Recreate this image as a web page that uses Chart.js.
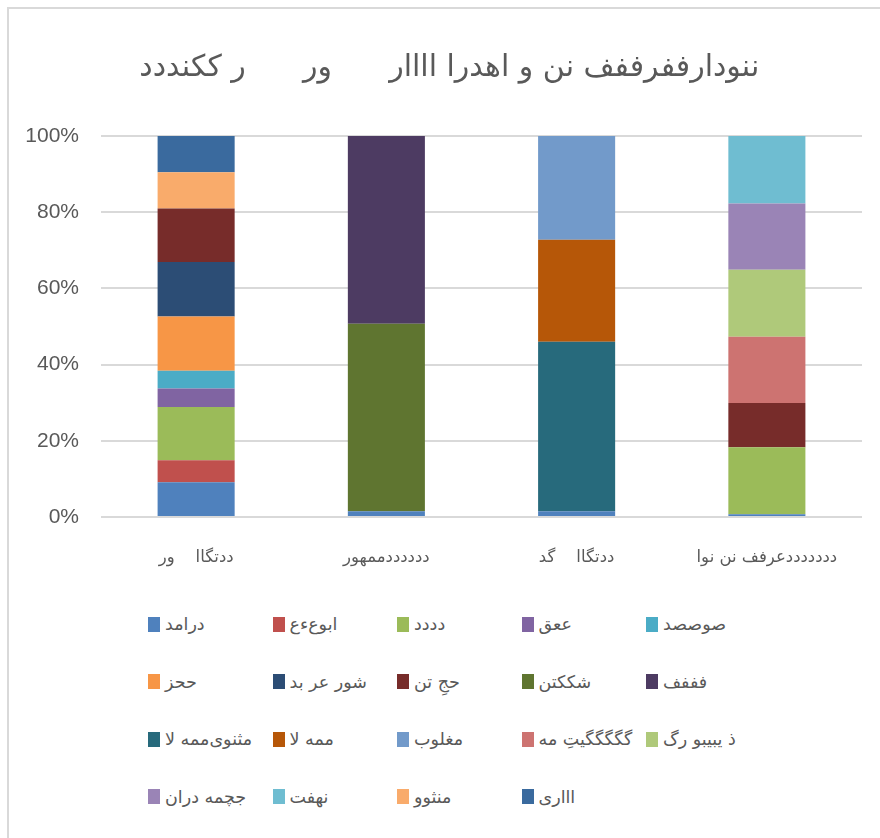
<!DOCTYPE html>
<html>
<head>
<meta charset="utf-8">
<script src="https://cdn.jsdelivr.net/npm/chart.js@4.4.1/dist/chart.umd.min.js"></script>
<style>
  html, body { margin: 0; padding: 0; background: #fff; overflow: hidden; }
  #frame { position: absolute; left: 7px; top: 7px; width: 900px; height: 900px; border: 2px solid #d9d9d9; box-sizing: border-box; }
  #wrap { position: absolute; left: 0; top: 0; width: 880px; height: 590px; }
  #legend { position: absolute; left: 148px; top: 609px; display: grid; grid-template-columns: repeat(5, 124.5px); grid-auto-rows: 57.5px; font-family: "DejaVu Sans", sans-serif; font-size: 17.5px; color: #595959; }
  .item { display: flex; align-items: center; height: 30px; white-space: nowrap; }
  .box { width: 12px; height: 15px; margin-right: 5px; flex: none; }
</style>
</head>
<body>
<div id="frame"></div>
<div id="wrap"><canvas id="grafico"></canvas></div>
<div id="legend"></div>
<script>
// --- DADOS ---
const TITULO = '   ننودارففرففف نن و اهدرا اااار      ور      ر ککنددد';
const CATEGORIAS = ['ددتگاا    ور', 'ددددددممهور', 'ددتگاا    گد', 'دددددددعرفف نن نوا'];
const SERIES = ['درامد', 'ابوعءع', 'دددد', 'ععق', 'صوصصد', 'ححز', 'شور عر بد', 'حجِ تن', 'شککتن', 'فففف',
  'مثنوی‌ممه لا', 'ممه لا', 'مغلوب', 'گگگگگیتِ مه', 'ذ یبیبو رگ', 'جچمه دران', 'نهفت', 'منثوو', 'اااری'];
const CORES = ['#4F81BD', '#C0504D', '#9BBB59', '#8064A2', '#4BACC6', '#F79646', '#2C4D75', '#772C2A', '#5F7530', '#4D3B62',
  '#276A7C', '#B65708', '#729ACA', '#CD7371', '#AFC97A', '#9A84B6', '#6FBDD1', '#F9AB6B', '#3A6A9E'];
// percentuais por categoria (uma lista por série)
const VALORES = [
  [9.1, 1.5, 1.5, 0.7],
  [5.8, 0, 0, 0],
  [14.0, 0, 0, 17.6],
  [4.8, 0, 0, 0],
  [4.7, 0, 0, 0],
  [14.2, 0, 0, 0],
  [14.3, 0, 0, 0],
  [14.1, 0, 0, 11.6],
  [0, 49.2, 0, 0],
  [0, 49.3, 0, 0],
  [0, 0, 44.5, 0],
  [0, 0, 26.8, 0],
  [0, 0, 27.2, 0],
  [0, 0, 0, 17.4],
  [0, 0, 0, 17.6],
  [0, 0, 0, 17.4],
  [0, 0, 0, 17.7],
  [9.5, 0, 0, 0],
  [9.5, 0, 0, 0]
];
const TICKS_Y = [0, 20, 40, 60, 80, 100];

const corTexto = '#595959';
const corGrade = '#d9d9d9';

const datasets = SERIES.map((nome, i) => ({
  label: nome,
  data: VALORES[i],
  backgroundColor: CORES[i],
  borderWidth: 0,
  categoryPercentage: 1,
  barPercentage: 0.405
}));

new Chart(document.getElementById('grafico'), {
  type: 'bar',
  data: { labels: CATEGORIAS, datasets: datasets },
  options: {
    responsive: true,
    maintainAspectRatio: false,
    animation: false,
    layout: { padding: { left: 8, right: 18, top: 10, bottom: 0 } },
    plugins: {
      legend: { display: false },
      tooltip: { enabled: false },
      title: {
        display: true,
        text: TITULO,
        color: corTexto,
        font: { family: 'DejaVu Sans', size: 30, weight: 'normal' },
        padding: { top: 40, bottom: 50 }
      }
    },
    scales: {
      x: {
        stacked: true,
        grid: { display: false },
        border: { display: false },
        ticks: { color: corTexto, font: { family: 'DejaVu Sans', size: 16.5 }, padding: 23 },
        afterFit: s => { s.height = 73; }
      },
      y: {
        stacked: true,
        min: 0,
        max: 100,
        afterBuildTicks: s => { s.ticks = TICKS_Y.map(v => ({ value: v })); },
        grid: { color: corGrade, lineWidth: 2, drawTicks: false },
        border: { display: false },
        ticks: { color: corTexto, font: { family: 'Liberation Sans', size: 21 }, padding: 22, callback: v => v + '%' },
        afterFit: s => { s.width = 93; }
      }
    }
  }
});

// --- LEGENDA ---
const legenda = document.getElementById('legend');
SERIES.forEach((nome, i) => {
  const item = document.createElement('div');
  item.className = 'item';
  item.innerHTML = '<span class="box" style="background:' + CORES[i] + '"></span><span dir="rtl">' + nome + '</span>';
  legenda.appendChild(item);
});
</script>
</body>
</html>
